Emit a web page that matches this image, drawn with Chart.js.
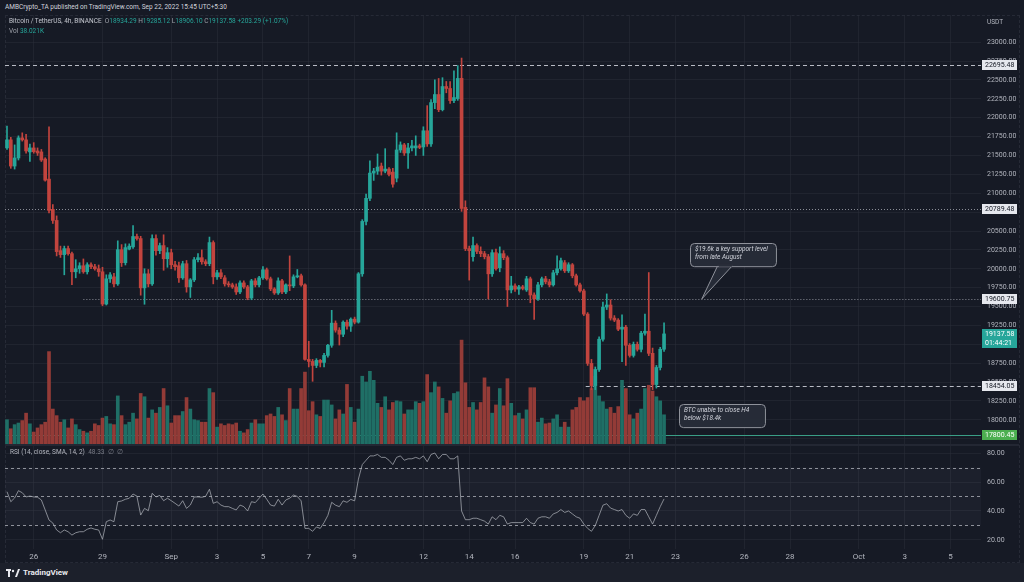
<!DOCTYPE html>
<html>
<head>
<meta charset="utf-8">
<title>BTC / USDT 4h</title>
<script src="https://cdn.jsdelivr.net/npm/chart.js@4.4.1/dist/chart.umd.min.js"></script>
<style>
  html, body { margin: 0; padding: 0; width: 1024px; height: 582px; overflow: hidden; background: #161a25; font-family: Roboto, "Liberation Sans", Arial, sans-serif; }
  canvas { position: absolute; }
  #main { left: 5px; top: 15px; }
  #rsi { left: 5px; top: 446px; }
  #frame { position: absolute; left: 5px; top: 15px; width: 1015px; height: 548px; border: 1px dashed #262a36; box-sizing: border-box; }
  #sep { position: absolute; left: 5px; top: 444px; width: 1014px; height: 2px; background: #232733; }
  #footer { position: absolute; left: 0; top: 563px; width: 1024px; height: 19px; background: #1c202b; }
  .txt { position: absolute; white-space: nowrap; font-size: 6.5px; line-height: 8px; color: #c3c6ce; }
  .up { color: #26a69a; }
  .lbl { color: #9ea1aa; }
  .dim { color: #787b86; }
  #logo { position: absolute; left: 6px; top: 567px; height: 11px; display: flex; align-items: center; gap: 3px; color: #e8e9ee; font-size: 8px; font-weight: bold; }
</style>
</head>
<body>
<div id="frame"></div>
<canvas id="main" width="1014" height="431"></canvas>
<div id="sep"></div>
<canvas id="rsi" width="1014" height="116"></canvas>
<div id="footer"></div>

<div class="txt" style="left:5px;top:3px;color:#d1d4dc">AMBCrypto_TA published on TradingView.com, Sep 22, 2022 15:45 UTC+5:30</div>
<div class="txt" id="ohlc" style="left:9px;top:17px"></div>
<div class="txt" id="vol" style="left:9px;top:27px"></div>
<div class="txt" style="left:987px;top:18px;color:#b2b5be">USDT</div>
<div class="txt" style="left:10px;top:448px;color:#b2b5be">RSI (14, close, SMA, 14, 2)&nbsp; <span class="dim">48.33&nbsp; ∅&nbsp; ∅</span></div>
<div id="logo">
  <svg width="14" height="8" viewBox="0 0 14 8"><rect x="0" y="0" width="5" height="2" fill="#e8e9ee"/><rect x="2" y="0" width="2" height="8" fill="#e8e9ee"/><circle cx="7" cy="2" r="1.2" fill="#e8e9ee"/><path d="M9 8 L12 0 L14 0 L11 8 Z" fill="#e8e9ee"/></svg>
  <span>TradingView</span>
</div>

<script>
(function () {
  "use strict";

  // 4h candles, Aug 24 20:00 -> Sep 22 08:00 (index 0..172)
  var opens = [
    21600,21707,21360,21467,21733,21707,21547,21600,21560,21547,
    21453,21187,20787,20640,20240,20187,20267,20200,19960,20000,
    20040,19960,20053,20027,20000,19960,19533,19867,19893,19800,
    20253,20080,20260,20290,20427,20400,19747,19933,19800,20400,
    20240,20307,20133,20213,20053,20040,19880,20067,19760,19853,
    20120,20147,20093,20067,20347,19893,19947,19880,19800,19787,
    19760,19693,19813,19760,19613,19840,19787,19880,19987,19867,
    19733,19680,19840,19693,19787,19773,19893,19907,19787,18800,
    18773,18720,18787,18760,18853,18987,19280,19187,19133,19293,
    19240,19333,19293,19933,20627,20933,21267,21293,21360,21293,
    21320,21280,21200,21573,21640,21533,21600,21600,21627,21613,
    21827,21653,22200,22307,22107,22413,22387,22227,22253,22520,
    20813,20267,20160,20307,20230,20200,20160,19933,20213,20013,
    20200,20147,19720,19773,19730,19760,19720,19867,19653,19600,
    19787,19867,19827,19787,19947,20000,20080,19973,20053,19907,
    19787,19707,19400,18747,18453,18667,19067,19493,19520,19347,
    19320,19200,19227,18987,18853,19000,18933,19147,19173,18880,
    18467,18693,18934.29
  ];
  var highs = [
    21890,21740,21640,21760,21800,21780,21650,21670,21600,21580,
    21470,21880,20850,20700,20300,20300,20300,20220,20120,20080,
    20130,20080,20080,20060,20050,20020,19920,19950,19940,20370,
    20320,20330,20330,20573,20460,20430,20000,19990,20450,20450,
    20340,20450,20280,20260,20100,20090,20100,20110,19870,20150,
    20200,20250,20120,20420,20370,19980,19990,19910,19830,19810,
    19800,19840,19840,19780,19860,19870,19900,20030,20010,19890,
    19750,19880,19860,19800,20170,19920,19990,19930,19800,19040,
    18800,18810,18800,18880,19000,19450,19310,19220,19310,19320,
    19350,19360,19950,20650,20990,21430,21330,21520,21400,21590,
    21340,21330,21800,21680,21660,21660,21700,21760,21650,21880,
    22160,22240,22500,22520,22530,22480,22480,22620,22690,22790,
    20900,20300,20420,20330,20290,20230,20190,20250,20260,20290,
    20240,20170,19900,19800,19780,19780,19900,19890,19680,19820,
    19890,19900,19860,19980,20170,20140,20110,20080,20070,19930,
    19810,19730,19420,18800,18700,19100,19560,19667,19590,19380,
    19340,19390,19250,19010,19030,19030,19170,19400,19950,18950,
    18720,18960,19285.12
  ];
  var lows = [
    21580,21330,21320,21440,21690,21530,21420,21530,21500,21420,
    21160,20740,20600,20170,20150,19920,20180,19790,19880,19940,
    19940,19930,20000,19980,19900,19510,19520,19820,19760,19780,
    20030,20050,20250,20270,20380,19650,19530,19760,19780,20180,
    20200,19980,20020,20000,19980,19820,19860,19690,19620,19830,
    20090,20060,20040,20040,19800,19860,19870,19770,19760,19740,
    19660,19670,19740,19590,19590,19760,19760,19860,19850,19710,
    19660,19660,19670,19670,19710,19750,19880,19770,18790,18700,
    18510,18690,18700,18700,18830,18960,19160,18990,19100,19200,
    19170,19270,19280,19900,20580,20900,21170,21250,21240,21270,
    21230,21080,21150,21540,21500,21330,21560,21500,21590,21500,
    21620,21620,22120,22080,22090,22330,22190,22200,22230,20760,
    20240,19850,20100,20200,20160,20130,19600,19900,19980,19960,
    20120,19500,19680,19700,19660,19720,19700,19550,19330,19580,
    19760,19800,19760,19770,19920,19980,19950,19950,19880,19770,
    19690,19380,18720,18400,18400,18640,19040,19460,19320,19300,
    19180,18770,18720,18830,18830,18910,18900,19120,18850,18400,
    18420,18660,18906.10
  ];
  var closes = [
    21707,21360,21467,21733,21707,21560,21600,21550,21533,21440,
    21173,20773,20640,20227,20187,20267,20200,19960,20000,20040,
    19960,20053,20027,20000,19960,19533,19867,19920,19800,20253,
    20080,20280,20300,20427,20400,19747,19933,19800,20400,20240,
    20307,20133,20213,20053,20027,19880,20067,19760,19853,20120,
    20147,20093,20067,20347,19893,19947,19893,19800,19787,19760,
    19693,19813,19760,19613,19840,19787,19880,19987,19867,19733,
    19680,19840,19693,19787,19773,19893,19907,19787,18800,18773,
    18720,18787,18760,18853,18987,19280,19187,19133,19293,19240,
    19333,19293,19933,20627,20933,21267,21293,21347,21293,21320,
    21250,21120,21573,21640,21533,21600,21627,21627,21607,21827,
    21653,22200,22307,22107,22413,22387,22227,22267,22520,20800,
    20267,20240,20307,20230,20200,20160,19933,20213,20000,20200,
    20147,19720,19773,19730,19760,19740,19867,19653,19600,19787,
    19867,19827,19787,19947,20000,20107,19973,20053,19907,19787,
    19707,19400,18747,18453,18667,19067,19493,19520,19347,19320,
    19200,19227,18987,18853,19000,18933,19147,19173,18880,18467,
    18693,18934,19137.58
  ];
  // volume, thousands of BTC
  var volumes = [
    32,21,26,28,31,40,27,17,22,26,
    29,115,45,37,29,32,22,33,26,20,
    18,16,18,27,25,34,36,27,26,61,
    37,26,29,40,33,64,60,34,44,40,
    47,70,49,28,37,37,42,59,45,32,
    31,29,29,70,65,23,27,25,27,26,
    28,18,16,20,28,32,27,27,37,39,
    36,47,38,31,70,45,45,70,90,43,
    54,38,36,56,56,50,33,44,39,75,
    47,29,45,85,78,91,80,52,47,60,
    44,53,55,54,39,44,44,54,52,54,
    87,65,78,72,58,40,55,64,66,129,
    77,47,53,44,53,83,72,40,50,70,
    49,82,52,37,40,33,44,71,71,29,
    34,27,28,33,38,23,29,23,44,47,
    59,55,59,70,85,61,54,45,47,40,
    48,80,70,38,33,40,45,70,74,67,
    60,55,38.021
  ];
  var rsiValues = [
    53.3,46.4,49,54,52.6,49.7,50.3,49.7,49.5,47.6,
    40.7,33.8,31.7,26.9,25,26.9,25.7,23.4,25,25.7,
    25.7,27.4,28.3,27.4,26.9,20.5,32.6,33.8,32.6,46.4,
    46.9,48.1,48.8,51.7,50.3,37.2,41.8,40.2,52.2,49.7,
    50.7,47.1,48.8,47.1,45.3,43.4,47.1,41.8,44.1,49.7,
    49.7,49.5,50.1,55,45.3,46.4,44.1,43,43,41.8,
    40.7,44.1,43,40,46.4,45.8,48.8,51.7,48.1,44.1,
    43.4,48.1,44.1,47.6,48.8,51,50,47,28,28,
    26,29,28,32,37,46,44,43,47,46,
    48,47,62,72,75,78,78,79,77,77,
    75,72,77,78,75,76,76,77,76,78,
    74,79,80,76,79,79,76,76,78,40,
    34,34,35,35,34,33,31,36,34,37,
    36,31,32,32,32,32,35,32,31,35,
    36,36,35,38,39,41,39,40,38,36,
    35,31,28,26,30,37,44,45,42,41,
    40,41,37,35,38,37,41,41,36,31,
    37,43,48.33
  ];

  // x-axis day ticks (candle index of 00:00 of that day)
  var dayTickPos = [7, 25, 43, 55, 67, 79, 91, 109, 121, 133, 151, 163, 175, 193, 205, 223, 235, 247];
  var dayTickText = ["26", "29", "Sep", "3", "5", "7", "9", "12", "14", "16", "19", "21", "23", "26", "28", "Oct", "3", "5"];
  var priceTicks = [17750, 18000, 18250, 18500, 18750, 19000, 19250, 19500, 19750, 20000, 20250,
    20500, 20750, 21000, 21250, 21500, 21750, 22000, 22250, 22500, 22750, 23000];
  var rsiTicks = [20, 40, 60, 80];
  var rsiBands = [70, 50, 30];

  // horizontal levels drawn on the chart
  var levelPrices = [22695.48, 20789.48, 19600.75, 18454.05, 17800.45];
  var levelFrom = [-1, -1, 20, 151.5, -1];
  var lastPrice = 19137.58;
  var lastCountdown = "01:44:21";

  var UP = "#26a69a", DOWN = "#c2443e";
  var UP_VOL = "#1f6f66", DOWN_VOL = "#933b37";
  var GRID = "rgba(42,46,57,0.55)";
  var AXIS_TEXT = "#b2b5be";
  var FONT = "Roboto, 'Liberation Sans', Arial, sans-serif";
  var X_MIN = -0.52, X_MAX = 254.97;

  if (typeof Chart === "undefined") {
    console.error("Chart.js did not load.");
    return;
  }

  // header legend from the last candle
  var n = closes.length - 1;
  var chg = closes[n] - opens[n];
  document.getElementById("ohlc").innerHTML =
    "Bitcoin / TetherUS, 4h, BINANCE&nbsp; " +
    "<span class='lbl'>O</span><span class='up'>" + opens[n].toFixed(2) + "</span> " +
    "<span class='lbl'>H</span><span class='up'>" + highs[n].toFixed(2) + "</span> " +
    "<span class='lbl'>L</span><span class='up'>" + lows[n].toFixed(2) + "</span> " +
    "<span class='lbl'>C</span><span class='up'>" + closes[n].toFixed(2) + "</span> " +
    "<span class='up'>+" + chg.toFixed(2) + " (+" + (chg / opens[n] * 100).toFixed(2) + "%)</span>";
  document.getElementById("vol").innerHTML =
    "<span class='lbl'>Vol</span> <span class='up'>" + volumes[n].toFixed(3) + "K</span>";

  var wickData = [], bodyData = [], volData = [], candleColors = [], volColors = [];
  for (var i = 0; i < closes.length; i++) {
    var isUp = closes[i] >= opens[i];
    wickData.push({ x: i, y: [lows[i], highs[i]] });
    bodyData.push({ x: i, y: [opens[i], closes[i]] });
    volData.push({ x: i, y: volumes[i] });
    candleColors.push(isUp ? UP : DOWN);
    volColors.push(isUp ? UP_VOL : DOWN_VOL);
  }

  function setDayTicks(scale) {
    scale.ticks = dayTickPos.map(function (v) { return { value: v }; });
  }

  function roundRect(ctx, x, y, w, h, r) {
    ctx.beginPath();
    ctx.moveTo(x + r, y);
    ctx.lineTo(x + w - r, y);
    ctx.quadraticCurveTo(x + w, y, x + w, y + r);
    ctx.lineTo(x + w, y + h - r);
    ctx.quadraticCurveTo(x + w, y + h, x + w - r, y + h);
    ctx.lineTo(x + r, y + h);
    ctx.quadraticCurveTo(x, y + h, x, y + h - r);
    ctx.lineTo(x, y + r);
    ctx.quadraticCurveTo(x, y, x + r, y);
    ctx.closePath();
  }

  var levelStyle = [
    { dash: [4, 3], color: "#b8bbc4" },
    { dash: [1, 2], color: "#8a8d96" },
    { dash: [1, 2], color: "#8a8d96" },
    { dash: [4, 3], color: "#b8bbc4" },
    { dash: [], color: "#3a9e86" }
  ];
  var levelBox = [
    { bg: "#e6e8ee", fg: "#131722" },
    { bg: "#e6e8ee", fg: "#131722" },
    { bg: "#e6e8ee", fg: "#131722" },
    { bg: "#e6e8ee", fg: "#131722" },
    { bg: "#4caf50", fg: "#ffffff" }
  ];
  var callouts = [
    { x0: 178.8, x1: 201.3, top: 20347, bottom: 20040, tail: [186.1, 190, 181.9, 19600.75],
      lines: ["$19.6k a key support level", "from late August"] },
    { x0: 175.9, x1: 198.4, top: 18213, bottom: 17907, tail: null,
      lines: ["BTC unable to close H4", "below $18.4k"] }
  ];

  var mainOverlay = {
    id: "mainOverlay",
    beforeDatasetsDraw: function (chart) {
      var ctx = chart.ctx, xs = chart.scales.x, ys = chart.scales.y, a = chart.chartArea;
      ctx.save();
      ctx.lineWidth = 1;
      levelPrices.forEach(function (p, k) {
        var y = Math.round(ys.getPixelForValue(p)) + 0.5;
        var x0 = Math.max(a.left, xs.getPixelForValue(levelFrom[k]));
        ctx.setLineDash(levelStyle[k].dash);
        ctx.strokeStyle = levelStyle[k].color;
        ctx.beginPath();
        ctx.moveTo(x0, y);
        ctx.lineTo(a.right, y);
        ctx.stroke();
      });
      ctx.restore();
    },
    afterDraw: function (chart) {
      var ctx = chart.ctx, xs = chart.scales.x, ys = chart.scales.y, a = chart.chartArea;
      ctx.save();
      // callouts
      callouts.forEach(function (c) {
        var x0 = xs.getPixelForValue(c.x0), x1 = xs.getPixelForValue(c.x1);
        var y0 = ys.getPixelForValue(c.top), y1 = ys.getPixelForValue(c.bottom);
        ctx.fillStyle = "rgba(40,44,56,0.92)";
        ctx.strokeStyle = "#8f929b";
        ctx.lineWidth = 1;
        if (c.tail) {
          var tx0 = xs.getPixelForValue(c.tail[0]), tx1 = xs.getPixelForValue(c.tail[1]);
          var px = xs.getPixelForValue(c.tail[2]), py = ys.getPixelForValue(c.tail[3]);
          ctx.beginPath();
          ctx.moveTo(tx0, y1 - 0.5);
          ctx.lineTo(px, py);
          ctx.lineTo(tx1, y1 - 0.5);
          ctx.closePath();
          ctx.fill();
          ctx.stroke();
        }
        roundRect(ctx, Math.round(x0) + 0.5, Math.round(y0) + 0.5, x1 - x0, y1 - y0, 4);
        ctx.fill();
        ctx.stroke();
        if (c.tail) {
          // hide box border where the tail joins
          var bx0 = xs.getPixelForValue(c.tail[0]) + 1, bx1 = xs.getPixelForValue(c.tail[1]) - 1;
          ctx.fillRect(bx0, y1 - 2, bx1 - bx0, 3);
        }
        ctx.fillStyle = "#d1d4dc";
        ctx.font = "italic 6.5px " + FONT;
        ctx.textBaseline = "middle";
        ctx.textAlign = "left";
        c.lines.forEach(function (t, j) {
          ctx.fillText(t, x0 + 5, y0 + 6.5 + j * 8.5);
        });
      });
      // price scale labels
      ctx.font = "7px " + FONT;
      ctx.textBaseline = "middle";
      ctx.textAlign = "left";
      var bx = a.right + 1, bw = 35;
      levelPrices.forEach(function (p, k) {
        var y = Math.round(ys.getPixelForValue(p));
        ctx.fillStyle = levelBox[k].bg;
        ctx.fillRect(bx, y - 5, bw, 10);
        ctx.fillStyle = levelBox[k].fg;
        ctx.fillText(p.toFixed(2), bx + 3, y + 0.5);
      });
      var ly = Math.round(ys.getPixelForValue(lastPrice));
      ctx.fillStyle = UP;
      ctx.fillRect(bx, ly - 5, bw, 19);
      ctx.fillStyle = "#ffffff";
      ctx.fillText(lastPrice.toFixed(2), bx + 3, ly + 0.5);
      ctx.fillText(lastCountdown, bx + 3, ly + 9);
      ctx.restore();
    }
  };

  new Chart(document.getElementById("main"), {
    type: "bar",
    data: {
      datasets: [
        { data: bodyData, yAxisID: "y", backgroundColor: candleColors, barThickness: 3, minBarLength: 1, grouped: false, order: 1 },
        { data: wickData, yAxisID: "y", backgroundColor: candleColors, barThickness: 1, grouped: false, order: 2 },
        { data: volData, yAxisID: "vol", backgroundColor: volColors, barThickness: 3, grouped: false, order: 3 }
      ]
    },
    options: {
      responsive: false,
      animation: false,
      devicePixelRatio: 1,
      events: [],
      layout: { padding: 0 },
      plugins: { legend: { display: false }, tooltip: { enabled: false } },
      scales: {
        x: {
          type: "linear", min: X_MIN, max: X_MAX, offset: false,
          grid: { offset: false, color: GRID, drawTicks: false },
          border: { display: false },
          ticks: { display: false },
          afterBuildTicks: setDayTicks,
          afterFit: function (s) { s.height = 0; s.paddingLeft = 0; s.paddingRight = 0; }
        },
        y: {
          position: "right", min: 17653.3, max: 23360,
          grid: { color: GRID, drawTicks: false },
          border: { display: false },
          ticks: {
            padding: 6, autoSkip: false, color: AXIS_TEXT, font: { size: 7, family: FONT },
            callback: function (v) { return Number(v).toFixed(2); }
          },
          afterBuildTicks: function (s) { s.ticks = priceTicks.map(function (v) { return { value: v }; }); },
          afterFit: function (s) { s.width = 38; s.paddingTop = 0; s.paddingBottom = 0; }
        },
        vol: { axis: "y", display: false, min: 0, max: 525 }
      }
    },
    plugins: [mainOverlay]
  });

  var rsiOverlay = {
    id: "rsiOverlay",
    beforeDatasetsDraw: function (chart) {
      var ctx = chart.ctx, ys = chart.scales.y, a = chart.chartArea;
      ctx.save();
      var yTop = ys.getPixelForValue(rsiBands[0]), yBot = ys.getPixelForValue(rsiBands[2]);
      ctx.fillStyle = "rgba(150,150,175,0.05)";
      ctx.fillRect(a.left, yTop, a.right - a.left, yBot - yTop);
      ctx.strokeStyle = "#8f929b";
      ctx.lineWidth = 1;
      ctx.setLineDash([3, 3]);
      rsiBands.forEach(function (v) {
        var y = Math.round(ys.getPixelForValue(v)) + 0.5;
        ctx.beginPath();
        ctx.moveTo(a.left, y);
        ctx.lineTo(a.right, y);
        ctx.stroke();
      });
      ctx.restore();
    }
  };

  new Chart(document.getElementById("rsi"), {
    type: "line",
    data: {
      datasets: [{
        data: rsiValues.map(function (v, k) { return { x: k, y: v }; }),
        borderColor: "rgba(170,173,182,0.75)",
        borderWidth: 1,
        pointRadius: 0,
        tension: 0,
        fill: false
      }]
    },
    options: {
      responsive: false,
      animation: false,
      devicePixelRatio: 1,
      events: [],
      layout: { padding: 0 },
      plugins: { legend: { display: false }, tooltip: { enabled: false } },
      scales: {
        x: {
          type: "linear", min: X_MIN, max: X_MAX,
          grid: { color: GRID, drawTicks: false },
          border: { display: false },
          ticks: {
            padding: 3, autoSkip: false, maxRotation: 0, color: AXIS_TEXT, font: { size: 8, family: FONT },
            callback: function (v, k) { return dayTickText[k]; }
          },
          afterBuildTicks: setDayTicks,
          afterFit: function (s) { s.height = 13; s.paddingLeft = 0; s.paddingRight = 0; }
        },
        y: {
          position: "right", min: 13.79, max: 84.83,
          grid: { color: GRID, drawTicks: false },
          border: { display: false },
          ticks: {
            padding: 6, autoSkip: false, color: AXIS_TEXT, font: { size: 7, family: FONT },
            callback: function (v) { return Number(v).toFixed(2); }
          },
          afterBuildTicks: function (s) { s.ticks = rsiTicks.map(function (v) { return { value: v }; }); },
          afterFit: function (s) { s.width = 38; s.paddingTop = 0; s.paddingBottom = 0; }
        }
      }
    },
    plugins: [rsiOverlay]
  });
})();
</script>
</body>
</html>
